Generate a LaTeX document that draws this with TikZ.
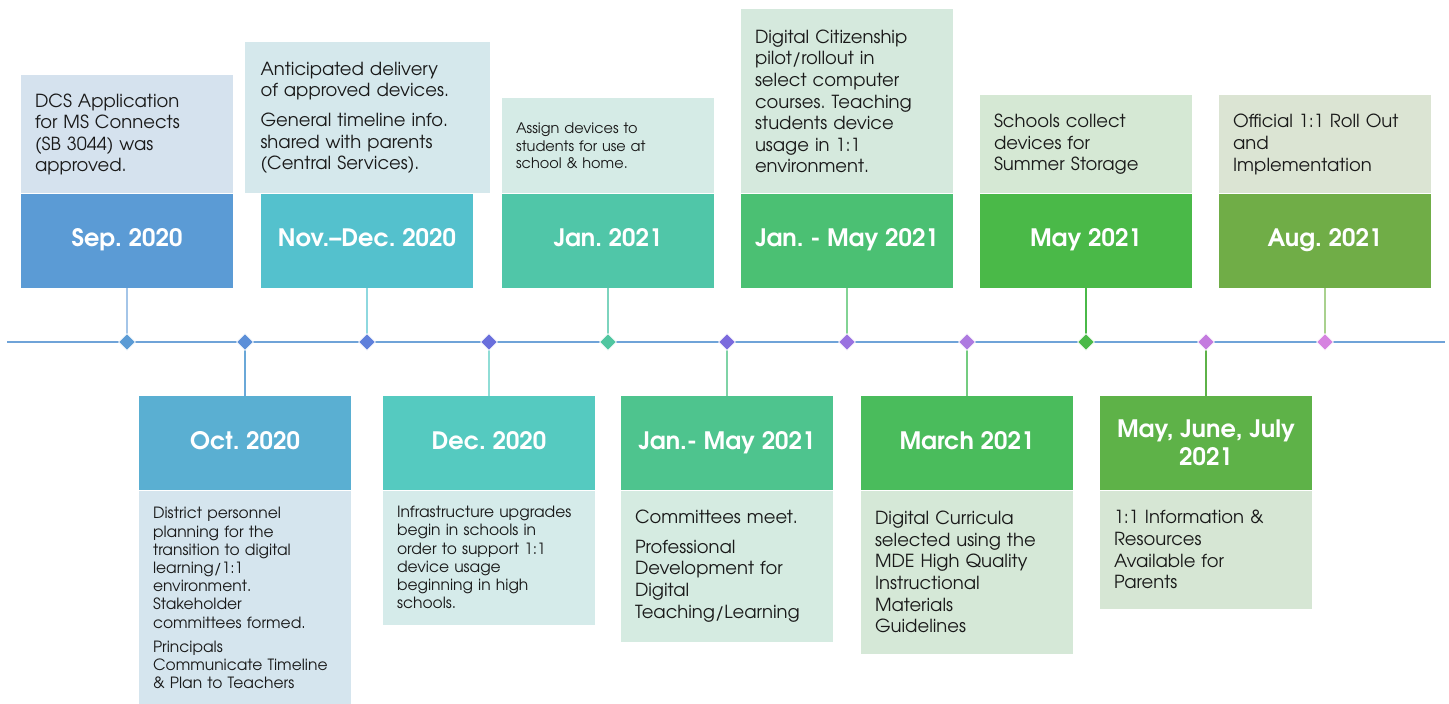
\documentclass[tikz,border=0pt]{standalone}
\usepackage{fontspec}
\setmainfont{TeX Gyre Adventor}
\frenchspacing
\usepackage{tikz}
\usetikzlibrary{positioning,shapes.geometric}

\definecolor{axisC}{HTML}{6FA3D8}
\definecolor{sepH}{HTML}{5B9BD5}\definecolor{sepN}{HTML}{D5E2EE}\definecolor{sepS}{HTML}{A4C5E8}\definecolor{sepD}{HTML}{5B9BD5}
\definecolor{octH}{HTML}{5AAFD2}\definecolor{octN}{HTML}{D5E5EE}\definecolor{octS}{HTML}{6AA8D8}\definecolor{octD}{HTML}{5C8FD8}
\definecolor{novH}{HTML}{54C1CD}\definecolor{novN}{HTML}{D5E8EC}\definecolor{novS}{HTML}{8ED8DF}\definecolor{novD}{HTML}{5F80DB}
\definecolor{decH}{HTML}{55CAC0}\definecolor{decN}{HTML}{D5EBEA}\definecolor{decS}{HTML}{90DDD6}\definecolor{decD}{HTML}{6A6FDC}
\definecolor{janH}{HTML}{50C6A8}\definecolor{janN}{HTML}{D5EBE6}\definecolor{janS}{HTML}{7DD4BE}\definecolor{janD}{HTML}{50C6A0}
\definecolor{jmbH}{HTML}{4EC48E}\definecolor{jmbN}{HTML}{D5EBE1}\definecolor{jmbS}{HTML}{7FD3A6}\definecolor{jmbD}{HTML}{7B6ADD}
\definecolor{jmtH}{HTML}{4BC073}\definecolor{jmtN}{HTML}{D5E9DD}\definecolor{jmtS}{HTML}{82D394}\definecolor{jmtD}{HTML}{9A72E0}
\definecolor{marH}{HTML}{4ABC5C}\definecolor{marN}{HTML}{D5E8D7}\definecolor{marS}{HTML}{74CC80}\definecolor{marD}{HTML}{AE7AE0}
\definecolor{mayH}{HTML}{4AB948}\definecolor{mayN}{HTML}{D5E8D4}\definecolor{mayS}{HTML}{4AB948}\definecolor{mayD}{HTML}{4AB948}
\definecolor{mjjH}{HTML}{5EB248}\definecolor{mjjN}{HTML}{D6E6D4}\definecolor{mjjS}{HTML}{5EB248}\definecolor{mjjD}{HTML}{C47BDF}
\definecolor{augH}{HTML}{70AD47}\definecolor{augN}{HTML}{DBE4D3}\definecolor{augS}{HTML}{A9D18E}\definecolor{augD}{HTML}{D683E0}

\begin{document}
\begin{tikzpicture}[x=1pt,y=1pt,
datebox/.style={rectangle, fill=#1, minimum width=212pt, minimum height=94pt, inner sep=0pt, text=white, align=center, text height=17pt, text depth=5pt, font=\fontsize{24}{28}\selectfont\bfseries},
notebox/.style={rectangle, fill=#1, text width=184pt, inner xsep=14pt, inner ysep=0pt, align=left, text=black!90, font=\fontsize{18}{21.6}\selectfont},
smallnote/.style={font=\fontsize{15.5}{18.2}\selectfont},
milestone/.style={diamond, fill=#1, draw=white, line width=0.8pt, minimum size=17pt, inner sep=0pt},
stem/.style={draw=#1, line width=1.4pt},
]
\useasboundingbox (0,0) rectangle (1449,-704);

%Timeline points
\coordinate (t1) at (127,-342);
\coordinate (t2) at (245,-342);
\coordinate (t3) at (367,-342);
\coordinate (t4) at (489,-342);
\coordinate (t5) at (608,-342);
\coordinate (t6) at (727,-342);
\coordinate (t7) at (847,-342);
\coordinate (t8) at (967,-342);
\coordinate (t9) at (1086,-342);
\coordinate (t10) at (1206,-342);
\coordinate (t11) at (1325,-342);
\coordinate (start) at (7,-342);
\coordinate (end) at (1445,-342);

%Date boxes
\node[datebox=sepH] (sep) [above=54pt of t1] {Sep. 2020};
\node[datebox=octH] (oct) [below=54pt of t2] {Oct. 2020};
\node[datebox=novH] (nov) [above=54pt of t3] {Nov.–Dec. 2020};
\node[datebox=decH] (dec) [below=54pt of t4] {Dec. 2020};
\node[datebox=janH] (jan) [above=54pt of t5] {Jan. 2021};
\node[datebox=jmbH] (jmb) [below=54pt of t6] {Jan.- May 2021};
\node[datebox=jmtH] (jmt) [above=54pt of t7] {Jan. - May 2021};
\node[datebox=marH] (mar) [below=54pt of t8] {March 2021};
\node[datebox=mayH] (may) [above=54pt of t9] {May 2021};
\node[datebox=mjjH, text height=, text depth=] (mjj) [below=54pt of t10] {May, June, July\\2021};
\node[datebox=augH] (aug) [above=54pt of t11] {Aug. 2021};

%Notes
\node[notebox=sepN, minimum height=118pt] (sepnote) [above=0pt of sep] {DCS Application\\ for MS Connects\\ (SB 3044) was\\ approved.};
\node[notebox=octN, smallnote, minimum height=215pt] (octnote) [below=0pt of oct] {District personnel\\ planning for the\\ transition to digital\\ learning/1:1\\ environment.\\ Stakeholder\\ committees formed.\\[6pt] Principals\\ Communicate Timeline\\ \& Plan to Teachers};
\node[notebox=novN, text width=213pt, inner xsep=16pt, minimum height=151pt] (novnote) [above=0pt of nov] {Anticipated delivery\\ of approved devices.\\[8pt] General timeline info.\\ shared with parents\\ (Central Services).};
\node[notebox=decN, smallnote, minimum height=134pt] (decnote) [below=0pt of dec] {Infrastructure upgrades\\ begin in schools in\\ order to support 1:1\\ device usage\\ beginning in high\\ schools.};
\node[notebox=janN, font=\fontsize{14.5}{17.5}\selectfont, minimum height=95pt] (jannote) [above=0pt of jan] {Assign devices to\\ students for use at\\ school \& home.};
\node[notebox=jmbN, minimum height=151pt] (jmbnote) [below=0pt of jmb] {Committees meet.\\[8pt] Professional\\ Development for\\ Digital\\ Teaching/Learning};
\node[notebox=jmtN, minimum height=184pt] (jmtnote) [above=0pt of jmt] {Digital Citizenship\\ pilot/rollout in\\ select computer\\ courses. Teaching\\ students device\\ usage in 1:1\\ environment.};
\node[notebox=marN, minimum height=163pt] (marnote) [below=0pt of mar] {Digital Curricula\\ selected using the\\ MDE High Quality\\ Instructional\\ Materials\\ Guidelines};
\node[notebox=mayN, minimum height=98pt] (maynote) [above=0pt of may] {Schools collect\\ devices for\\ Summer Storage};
\node[notebox=mjjN, minimum height=118pt] (mjjnote) [below=0pt of mjj] {1:1 Information \&\\ Resources\\ Available for\\ Parents};
\node[notebox=augN, minimum height=98pt] (augnote) [above=0pt of aug] {Official 1:1 Roll Out\\ and\\ Implementation};

%Lines
\draw[axisC, line width=2pt] (start) -- (end);
\draw[stem=sepS] (sep.south) -- (t1);
\draw[stem=octS] (oct.north) -- (t2);
\draw[stem=novS] (nov.south) -- (t3);
\draw[stem=decS] (dec.north) -- (t4);
\draw[stem=janS] (jan.south) -- (t5);
\draw[stem=jmbS] (jmb.north) -- (t6);
\draw[stem=jmtS] (jmt.south) -- (t7);
\draw[stem=marS] (mar.north) -- (t8);
\draw[stem=mayS] (may.south) -- (t9);
\draw[stem=mjjS] (mjj.north) -- (t10);
\draw[stem=augS] (aug.south) -- (t11);

%Markers
\node[milestone=sepD] (m1) at (t1) {};
\node[milestone=octD] (m2) at (t2) {};
\node[milestone=novD] (m3) at (t3) {};
\node[milestone=decD] (m4) at (t4) {};
\node[milestone=janD] (m5) at (t5) {};
\node[milestone=jmbD] (m6) at (t6) {};
\node[milestone=jmtD] (m7) at (t7) {};
\node[milestone=marD] (m8) at (t8) {};
\node[milestone=mayD] (m9) at (t9) {};
\node[milestone=mjjD] (m10) at (t10) {};
\node[milestone=augD] (m11) at (t11) {};
\end{tikzpicture}
\end{document}
